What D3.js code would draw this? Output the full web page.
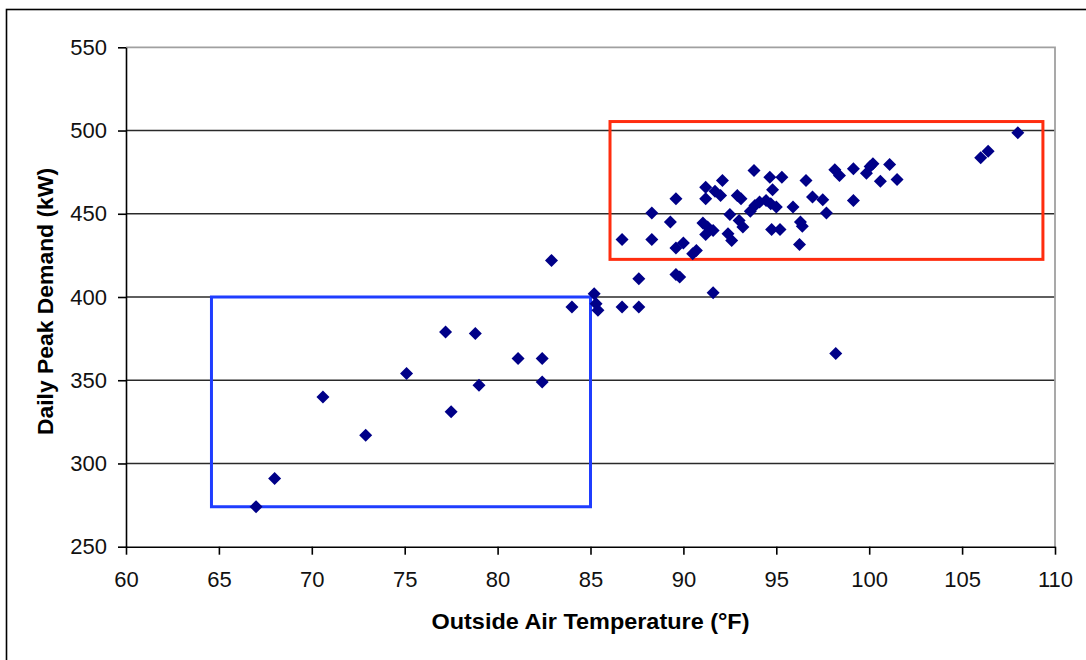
<!DOCTYPE html>
<html>
<head>
<meta charset="utf-8">
<script src="https://cdn.jsdelivr.net/npm/d3@7"></script>
<style>
  html, body { margin: 0; padding: 0; background: #fff; }
  svg { display: block; }
</style>
</head>
<body>
<svg id="chart" width="1086" height="660"></svg>
<script>
// ---- Data ----
const temperatureF = [
  67.0, 68.0, 70.6, 72.9, 75.1, 77.2, 77.5, 78.8, 79.0, 81.1, 82.4, 82.4, 82.9, 84.0,
  85.2, 85.3, 85.4, 86.7, 87.6, 87.6, 89.6, 89.8, 91.6, 98.2,
  86.7, 88.3, 88.3, 89.3, 89.6, 89.6, 90.0, 90.5, 90.7, 91.05, 91.2, 91.2, 91.3, 91.6, 91.2,
  91.7, 92.0, 92.1, 92.5, 92.4, 92.6, 92.9, 93.1, 93.0, 93.2, 93.8, 93.6, 93.85, 94.1,
  94.45, 94.7, 95.0, 94.65, 95.3, 94.8, 94.75, 95.2, 95.9, 96.3, 96.4, 96.25, 96.6, 96.95,
  97.5, 97.7, 98.15, 98.4, 99.15, 99.15, 99.85, 100.05, 100.2, 100.6, 101.1, 101.5,
  106.0, 106.4, 108.0
];
const peakDemandKW = [
  274, 291, 340, 317, 354, 379, 331, 378, 347, 363, 363, 349, 422, 394,
  402, 396, 392, 394, 394, 411, 413.5, 412, 402.5, 366,
  434.5, 450.5, 434.5, 445, 459, 429.5, 432.5, 426, 428, 444.5, 466, 459, 442, 440, 437.5,
  463.6, 461, 470, 449.6, 438, 434, 461, 459, 446, 442, 476, 451.5, 455, 457,
  458, 456, 454, 472, 472, 464.5, 440.5, 440.5, 454, 445, 442.5, 431.5, 470, 460,
  458.4, 450.4, 476.4, 473, 477, 458, 474.4, 478.4, 480, 469.6, 479.6, 470.6,
  483.6, 487.6, 498.6
];
const xTicks = [60, 65, 70, 75, 80, 85, 90, 95, 100, 105, 110];
const yTicks = [250, 300, 350, 400, 450, 500, 550];
const xTitle = "Outside Air Temperature (°F)";
const yTitle = "Daily Peak Demand (kW)";
// highlight regions: [xMin, xMax, yMin, yMax]
const boxNames = ["cool", "hot"];
const boxExtents = [[64.6, 85.0, 274, 400], [86.05, 109.35, 422.6, 505.4]];
const boxColors = ["#1f3dff", "#ff2d0f"];

// ---- Layout ----
const svg = d3.select("#chart");
const plotL = 126, plotR = 1055, plotT = 47.3, plotB = 546.7;
const x = d3.scaleLinear().domain([60, 110]).range([plotL, plotR]);
const y = d3.scaleLinear().domain([250, 550]).range([plotB, plotT]);

// outer frame
svg.append("rect")
  .attr("x", 6.5).attr("y", 9.5).attr("width", 1100).attr("height", 700)
  .attr("fill", "#fff").attr("stroke", "#000").attr("stroke-width", 1.6);

// gridlines
svg.append("g").selectAll("line")
  .data(yTicks.filter(v => v > 250 && v < 550))
  .join("line")
  .attr("x1", plotL).attr("x2", plotR)
  .attr("y1", d => y(d)).attr("y2", d => y(d))
  .attr("stroke", "#2a2a2a").attr("stroke-width", 1.6);

// plot area top/right border (gray)
svg.append("path")
  .attr("d", `M${plotL},${y(550)}H${plotR}V${plotB}`)
  .attr("fill", "none").attr("stroke", "#a0a0a0").attr("stroke-width", 1.8);

// axes
const fontFam = "'Liberation Sans', Arial, sans-serif";
const yAxis = svg.append("g").attr("transform", `translate(${plotL},0)`)
  .call(d3.axisLeft(y).tickValues(yTicks).tickSize(8).tickSizeOuter(0).tickPadding(11).tickFormat(d3.format("d")));
const xAxis = svg.append("g").attr("transform", `translate(0,${plotB})`)
  .call(d3.axisBottom(x).tickValues(xTicks).tickSize(8).tickSizeOuter(0).tickPadding(17).tickFormat(d3.format("d")));
[xAxis, yAxis].forEach(g => {
  g.select(".domain").attr("stroke", "#000").attr("stroke-width", 1.6);
  g.selectAll(".tick line").attr("stroke", "#000").attr("stroke-width", 1.6);
  g.selectAll(".tick text").attr("fill", "#111").style("font-family", fontFam).style("font-size", "22px");
});

// highlight boxes
svg.append("g").selectAll("rect")
  .data(boxExtents)
  .join("rect")
  .attr("class", (d, i) => "box-" + boxNames[i])
  .attr("x", d => x(d[0])).attr("y", d => y(d[3]))
  .attr("width", d => x(d[1]) - x(d[0])).attr("height", d => y(d[2]) - y(d[3]))
  .attr("fill", "none")
  .attr("stroke", (d, i) => boxColors[i])
  .attr("stroke-width", 3);

// points (diamonds)
const pts = temperatureF.map((t, i) => [t, peakDemandKW[i]]);
const r = 6.5;
svg.append("g").selectAll("path")
  .data(pts)
  .join("path")
  .attr("transform", d => `translate(${x(d[0])},${y(d[1])})`)
  .attr("d", `M0,${-r}L${r},0L0,${r}L${-r},0Z`)
  .attr("fill", "#000088");

// titles
svg.append("text")
  .attr("x", (plotL + plotR) / 2).attr("y", 628.5)
  .attr("text-anchor", "middle")
  .attr("textLength", 318).attr("lengthAdjust", "spacingAndGlyphs")
  .style("font-family", fontFam).style("font-size", "22px").style("font-weight", "bold")
  .attr("fill", "#000")
  .text(xTitle);

svg.append("text")
  .attr("transform", `translate(53,301.5) rotate(-90)`)
  .attr("text-anchor", "middle")
  .attr("textLength", 267).attr("lengthAdjust", "spacingAndGlyphs")
  .style("font-family", fontFam).style("font-size", "22px").style("font-weight", "bold")
  .attr("fill", "#000")
  .text(yTitle);
</script>
</body>
</html>
